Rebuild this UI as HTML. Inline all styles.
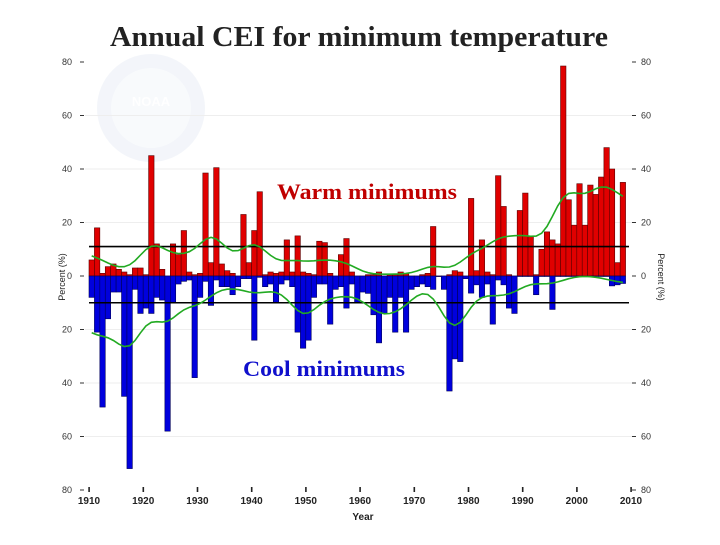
<!DOCTYPE html>
<html><head><meta charset="utf-8">
<style>
body{margin:0;background:#fff;width:720px;height:540px;overflow:hidden;font-family:"Liberation Sans",sans-serif}
</style></head>
<body>
<svg id="chart" width="720" height="540" xmlns="http://www.w3.org/2000/svg">
<text x="110" y="46" textLength="498" lengthAdjust="spacingAndGlyphs" font-family="Liberation Serif, serif" font-weight="bold" font-size="29" fill="#222">Annual CEI for minimum temperature</text>
<g opacity="0.12">
<circle cx="151" cy="108" r="54" fill="#9fb6d8"/>
<circle cx="151" cy="108" r="40" fill="#c9d8ee"/>
<text x="151" y="106" text-anchor="middle" font-size="13" font-weight="bold" fill="#fff">NOAA</text>
</g>
<g id="grid"></g>
<g id="bars"></g>
<g id="lines"></g>
<g id="axes"></g>
<text x="277" y="199" textLength="180" lengthAdjust="spacingAndGlyphs" font-family="Liberation Serif, serif" font-weight="bold" font-size="22" fill="#c00000">Warm minimums</text>
<text x="243" y="376" textLength="162" lengthAdjust="spacingAndGlyphs" font-family="Liberation Serif, serif" font-weight="bold" font-size="22" fill="#1010cc">Cool minimums</text>
<text x="363" y="520" text-anchor="middle" font-size="10" font-weight="bold" fill="#222">Year</text>
<text transform="translate(65,277) rotate(-90)" text-anchor="middle" font-size="9" fill="#222">Percent (%)</text>
<text transform="translate(658,277) rotate(90)" text-anchor="middle" font-size="9" fill="#222">Percent (%)</text>
</svg>
<script>
const startYear = 1910;
const warm = [6,18,1,3.5,4.5,2.5,1.5,0.5,3,3,0.5,45,12,2.5,0,12,8,17,1.5,0.5,1,38.5,5,40.5,4.5,2,1,0,23,5,17,31.5,0.5,
1.5,1,1.5,13.5,1.5,15,1.5,1,0.5,13,12.5,1,0,8,14,1.5,0,0,0.5,0.5,1.5,0,0.5,0.5,1.5,1,0,0,0.5,1,18.5,0,0,0.5,2,1.5,
0,29,2,13.5,1.5,0.5,37.5,26,0.5,0,24.5,31,15,0.5,10,16.5,13.5,12,78.5,28.5,19,34.5,19,34,30.5,37,48,40,5,35];
const cool = [8,21,49,16,6,6,45,72,5,14,12,14,8,9,58,10,3,2,1.5,38,8,2,11,1.5,4,4,7,4,1,1,24,0.5,4,
3,10,3,1.5,4,21,27,24,8,3,3,18,5,4,12,3,10,6,6.5,14.5,25,14,8,21,8,21,5,4,3,4,5,0,5,43,31,32,
1,6.4,3.3,8,3,18,1.5,3.3,12,14,0,0,0,7,0,0,12.5,0,0,0,0,0,0,0,0,0,0,3.7,3.3,2.8];
const yTicks = [80,60,40,20,0,20,40,60,80];
const yTickVals = [80,60,40,20,0,-20,-40,-60,-80];
const xTicks = [1910,1920,1930,1940,1950,1960,1970,1980,1990,2000,2010];
const thresholds = [11,-10];

const NS='http://www.w3.org/2000/svg';
const X0=89, PX=5.42, Y0=276, PY=2.675;
const xs = yr => X0 + (yr-startYear)*PX;
const ys = v => Y0 - v*PY;
function mk(tag, attrs, parent){const e=document.createElementNS(NS,tag);for(const k in attrs)e.setAttribute(k,attrs[k]);parent.appendChild(e);return e;}
const grid=document.getElementById('grid'), bars=document.getElementById('bars'), lines=document.getElementById('lines'), axes=document.getElementById('axes');

yTickVals.forEach((v,i)=>{
  if(v!==0 && Math.abs(v)!==80){const g=mk('line',{x1:85,x2:632,y1:ys(v),y2:ys(v),stroke:'#eee','stroke-width':1},grid);
  
  }
  const t=mk('text',{x:72,y:ys(v)+3,'text-anchor':'end','font-size':9,fill:'#333'},axes);
  t.textContent=yTicks[i];
  
  
  const t2=mk('text',{x:641,y:ys(v)+3,'font-size':9,fill:'#333'},axes);
  t2.textContent=yTicks[i];
  
  
  const tk=mk('line',{x1:632,x2:636,y1:ys(v),y2:ys(v),stroke:'#333'},axes);
  
  
  const tk2=mk('line',{x1:80,x2:84,y1:ys(v),y2:ys(v),stroke:'#333'},axes);
  
  
});
xTicks.forEach(yr=>{
  const tk=mk('rect',{x:xs(yr)-0.7,y:ys(-80)-3,width:1.6,height:5,fill:'#222'},axes);
  
  
  const t=mk('text',{x:xs(yr),y:ys(-80)+14,'text-anchor':'middle','font-size':10,'font-weight':'bold',fill:'#222'},axes);
  t.textContent=yr;
  
  
});
warm.forEach((v,i)=>{
  const r=mk('rect',{x:xs(startYear+i),y:ys(v),width:PX,height:Math.max(v*PY,0.5),fill:'#e00000',stroke:'#5a0000','stroke-width':0.6},bars);
  
  
});
cool.forEach((v,i)=>{
  const r=mk('rect',{x:xs(startYear+i),y:Y0,width:PX,height:Math.max(v*PY,0.5),fill:'#0000dd',stroke:'#00005a','stroke-width':0.6},bars);
  
  
});
thresholds.forEach(v=>{
  const l=mk('line',{x1:89,x2:629,y1:ys(v),y2:ys(v),stroke:'#000','stroke-width':1.6},lines);
  
  
});
function smooth(arr){const s=2.4;return arr.map((_,i)=>{let a=0,w=0;for(let j=0;j<arr.length;j++){const d=j-i;if(Math.abs(d)>8)continue;const k=Math.exp(-d*d/(2*s*s));a+=arr[j]*k;w+=k;}return a/w;});}
function drawLine(arr,sign,name){
  const sm=smooth(arr);
  const d=sm.map((v,i)=>(i?'L':'M')+(xs(startYear+i)+PX/2).toFixed(1)+','+ys(sign*v).toFixed(1)).join('');
  const p=mk('path',{d:d,fill:'none',stroke:'#22aa22','stroke-width':1.6},lines);
  
  
}
drawLine(warm,1,'warm-smoothed-line');
drawLine(cool,-1,'cool-smoothed-line');
</script>
</body></html>
